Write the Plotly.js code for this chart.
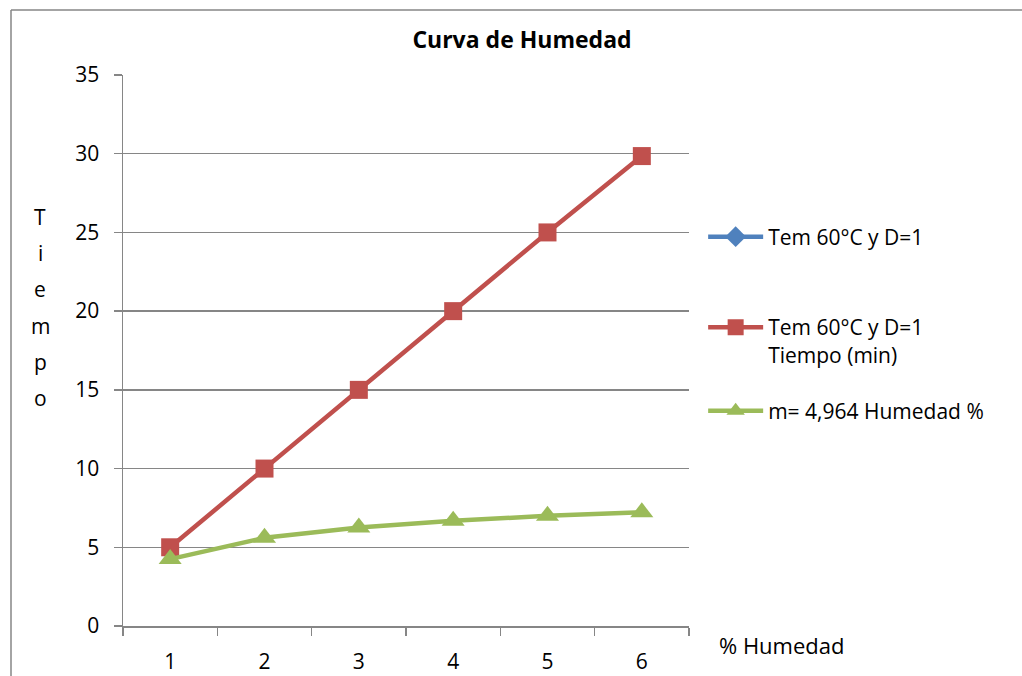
<!DOCTYPE html>
<html>
<head>
<meta charset="utf-8">
<script src="https://cdn.plot.ly/plotly-3.0.1.min.js"></script>
<style>html,body{margin:0;padding:0;background:#fff;}#chart{width:1022px;height:676px;}</style>
</head>
<body>
<div id="chart"></div>
<script>
var categories = ["1", "2", "3", "4", "5", "6"];
var serieAzul = [null, null, null, null, null, null];
var tiempoMin = [5, 10, 15, 20, 25, 29.85];
var humedadPct = [4.25, 5.6, 6.25, 6.68, 7.0, 7.22];
var yTicks = [0, 5, 10, 15, 20, 25, 30, 35];
var nombres = ["Tem 60°C y D=1", "Tem 60°C y D=1<br>Tiempo (min)", "m= 4,964 Humedad %"];
var letrasY = ["T", "i", "e", "m", "p", "o"];

var FONT = "'Open Sans', sans-serif";
var traces = [
  {x: categories, y: serieAzul, name: nombres[0], type: "scatter", mode: "lines+markers", legend: "legend",
   line: {color: "#4F81BD", width: 4.5}, marker: {symbol: "diamond", size: 16, color: "#4F81BD"}},
  {x: categories, y: tiempoMin, name: nombres[1], type: "scatter", mode: "lines+markers", legend: "legend2",
   line: {color: "#C0504D", width: 4.5}, marker: {symbol: "square", size: 18, color: "#C0504D"}},
  {x: categories, y: humedadPct, name: nombres[2], type: "scatter", mode: "lines+markers", legend: "legend3",
   line: {color: "#9BBB59", width: 4.5}, marker: {symbol: "triangle-up", size: 20, color: "#9BBB59"}}
];

var annotations = [
  {text: "% Humedad", xref: "paper", yref: "paper", x: (717 - 123) / 566, y: (626 - 645) / 551,
   xanchor: "left", yanchor: "middle", showarrow: false, font: {family: FONT, size: 22, color: "#000"}}
];
letrasY.forEach(function (l, i) {
  annotations.push({text: l, xref: "paper", yref: "paper", x: (40 - 123) / 566, y: (626 - (217 + i * 36.2)) / 551,
    xanchor: "center", yanchor: "middle", showarrow: false, font: {family: FONT, size: 21, color: "#000"}});
});

function leg(yc) {
  return {x: 1.025, xanchor: "left", y: (626 - yc) / 551, yanchor: "middle", itemwidth: 55, valign: "top",
          font: {family: FONT, size: 21, color: "#000"}, bgcolor: "rgba(0,0,0,0)"};
}

var layout = {
  width: 1022, height: 676,
  margin: {l: 123, r: 333, t: 75, b: 50},
  paper_bgcolor: "#fff", plot_bgcolor: "#fff",
  font: {family: FONT, size: 21, color: "#000"},
  title: {text: "<b>Curva de Humedad</b>", x: 522 / 1022, xanchor: "center", y: 1 - 40 / 676, yanchor: "middle",
          font: {family: FONT, size: 23, color: "#000"}},
  xaxis: {type: "category", range: [-0.5, 5.5], tickson: "boundaries", ticks: "outside", ticklen: 8, tickcolor: "#868686", tickwidth: 1.5,
          showline: true, linecolor: "#868686", linewidth: 1.5, showgrid: false, zeroline: false, ticklabelstandoff: 16,
          tickfont: {family: FONT, size: 21, color: "#000"}, fixedrange: true},
  yaxis: {range: [0, 35], tickvals: yTicks, ticks: "outside", ticklen: 8, tickcolor: "#868686", tickwidth: 1.5,
          showline: true, linecolor: "#868686", linewidth: 1.5, showgrid: true, gridcolor: "#868686", gridwidth: 1.5,
          zeroline: false, ticklabelstandoff: 10, tickfont: {family: FONT, size: 21, color: "#000"}, fixedrange: true},
  legend: leg(237),
  legend2: leg(341),
  legend3: leg(411),
  showlegend: true,
  annotations: annotations,
  shapes: [
    {type: "line", xref: "paper", yref: "paper", x0: (11 - 123) / 566, x1: (1030 - 123) / 566,
     y0: (626 - 10) / 551, y1: (626 - 10) / 551, line: {color: "#868686", width: 1.5}},
    {type: "line", xref: "paper", yref: "paper", x0: (11 - 123) / 566, x1: (11 - 123) / 566,
     y0: (626 - 10) / 551, y1: (626 - 690) / 551, line: {color: "#868686", width: 1.5}}
  ]
};

Plotly.newPlot("chart", traces, layout, {displayModeBar: false, staticPlot: true});
</script>
</body>
</html>
